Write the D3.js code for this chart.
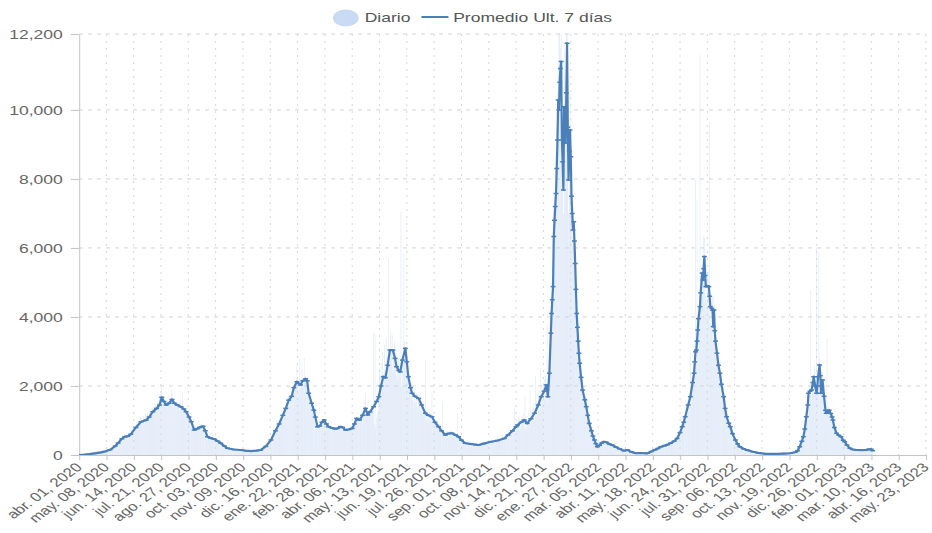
<!DOCTYPE html>
<html>
<head>
<meta charset="utf-8">
<script src="https://cdn.jsdelivr.net/npm/d3@7"></script>
<style>
  body { margin: 0; background: #fff; }
  svg { display: block; font-family: "Liberation Sans", Arial, sans-serif; }
</style>
</head>
<body>
<svg id="chart" width="932" height="533"></svg>
<script>
// ---- datos ----
const fechaInicio = "2020-04-01";
const fechaFin = "2023-05-23";
const series = ["Diario", "Promedio Ult. 7 días"];

const ticksY = [0, 2000, 4000, 6000, 8000, 10000, 12200];
const ticksX = [
  "2020-04-01", "2020-05-08", "2020-06-14", "2020-07-21", "2020-08-27", "2020-10-03",
  "2020-11-09", "2020-12-16", "2021-01-22", "2021-02-28", "2021-04-06", "2021-05-13",
  "2021-06-19", "2021-07-26", "2021-09-01", "2021-10-08", "2021-11-14", "2021-12-21",
  "2022-01-27", "2022-03-05", "2022-04-11", "2022-05-18", "2022-06-24", "2022-07-31",
  "2022-09-06", "2022-10-13", "2022-11-19", "2022-12-26", "2023-02-01", "2023-03-10",
  "2023-04-16", "2023-05-23"
];

// casos diarios, una fila por semana desde 2020-04-01
const diario = [
  2,4,3,8,5,6,9,
  10,8,15,12,14,9,18,
  20,28,22,30,25,19,33,
  40,52,38,47,55,44,60,
  62,75,80,58,90,72,85,
  95,120,105,140,98,130,125,
  150,180,200,160,210,175,230,
  260,310,280,350,390,330,420,
  450,520,430,560,490,610,540,
  500,580,620,470,560,650,590,
  600,720,680,810,760,690,850,
  800,910,860,1020,950,880,1100,
  960,1080,900,1150,1010,930,1200,
  1010,1150,1240,980,1180,1320,1090,
  1200,1350,1420,1150,1380,1500,1290,
  1350,1520,1600,1400,1680,1550,1800,
  1950,1620,1500,1480,1700,1420,1380,
  1450,1600,1550,1720,1480,1650,1900,
  1800,1520,1450,1600,1380,1550,1470,
  1450,1380,1520,1300,1600,1350,1400,
  1850,1280,1420,1200,1300,1250,1180,
  1150,1100,980,1050,900,850,950,
  800,700,650,780,850,720,760,
  780,820,900,760,850,800,880,
  830,750,700,620,560,520,600,
  480,520,450,510,490,470,530,
  470,430,460,410,420,390,450,
  370,340,310,350,300,290,330,
  270,240,210,190,220,180,200,
  180,160,175,150,185,165,170,
  160,150,145,170,140,155,160,
  145,135,150,130,140,145,125,
  120,130,115,135,125,110,130,
  110,120,105,125,115,110,120,
  120,130,125,140,135,130,145,
  150,165,180,200,190,210,230,
  250,280,320,360,340,400,420,
  430,480,560,600,520,650,680,
  700,780,900,850,960,880,1000,
  1050,1150,1250,1100,1300,1350,1280,
  1350,1500,1650,1450,1700,1600,1750,
  1700,1850,2000,1800,2100,1950,2050,
  2150,2600,2000,1900,2200,2800,1950,
  2100,2700,2200,2000,2800,2300,2250,
  2150,2000,1700,1750,1600,1500,1450,
  1500,1400,1200,1100,1000,900,850,
  820,850,800,900,880,950,920,
  950,1000,1050,980,900,920,870,
  850,820,780,800,760,820,790,
  780,750,790,760,740,800,770,
  770,820,800,850,780,830,810,
  800,760,720,700,740,730,760,
  740,750,780,760,770,790,770,
  850,900,950,1000,1100,1050,1080,
  1000,1050,1100,1020,1150,1080,1150,
  1200,1600,1400,1800,1250,1150,1160,
  1200,1250,1300,1350,1380,1400,1420,
  3570,900,3500,800,1100,1200,1300,
  1690,2500,1950,2700,2100,3000,2270,
  2250,3200,2300,3400,2500,2700,5700,
  3000,2600,3600,3000,3500,2400,2950,
  3300,2500,3100,2300,2900,2200,2800,
  2420,2410,7050,2000,2750,5850,3000,
  3300,2800,3100,2500,2600,2000,2300,
  2200,1700,2100,1600,1900,1500,1800,
  1900,1500,1800,1400,1700,1650,1450,
  1600,1300,1500,1200,1400,1150,1300,
  2750,1000,1300,1050,1200,950,1250,
  1200,1000,1800,950,1050,900,1000,
  1000,800,950,750,900,700,850,
  800,600,1540,550,700,500,650,
  650,520,700,560,680,550,700,
  700,560,680,540,650,520,610,
  620,480,1200,450,560,420,500,
  480,350,420,310,380,290,360,
  380,280,360,270,350,290,340,
  350,260,330,270,320,280,330,
  330,250,310,270,320,290,340,
  380,290,360,300,370,320,380,
  420,320,400,330,410,350,420,
  450,350,430,360,440,380,450,
  500,380,480,390,490,420,500,
  560,420,540,440,560,480,620,
  700,520,680,560,720,600,760,
  880,640,1400,700,900,760,950,
  1100,760,1050,800,1080,850,1020,
  1200,800,1700,750,1050,820,1000,
  1250,880,1900,920,1300,1000,1400,
  1500,1000,2300,1100,1600,1200,1700,
  1900,1300,2500,1400,2000,1600,2100,
  2200,1600,2300,1700,3800,1500,2400,
  2800,3000,4200,4500,5000,5600,7200,
  7500,8200,8800,9500,10500,11300,12200,
  12200,11800,12200,9000,8000,7000,12000,
  11000,9000,12200,12200,8500,7000,9500,
  10500,8000,7200,6500,6000,7000,5800,
  5000,4300,3800,3500,3000,2800,2500,
  2600,2000,2200,1700,1900,1500,1700,
  1600,1200,1400,1000,1100,800,900,
  800,600,700,480,550,380,420,
  360,240,300,220,300,250,330,
  380,300,420,330,430,340,410,
  410,310,390,300,370,280,340,
  330,250,310,240,290,220,260,
  250,180,230,170,210,150,190,
  170,120,150,110,150,120,160,
  165,120,150,105,130,90,100,
  95,70,80,55,65,45,55,
  60,45,60,48,62,46,58,
  58,44,56,45,55,44,54,
  56,45,70,68,95,85,110,
  125,105,150,130,175,150,200,
  210,170,230,190,250,210,270,
  280,230,300,250,310,260,330,
  340,280,360,300,370,320,420,
  430,350,470,400,530,450,620,
  680,560,770,640,860,720,980,
  1050,900,1250,1050,1450,1200,1600,
  1700,1400,3040,1500,2200,1850,2500,
  2600,2300,7970,2700,7390,3300,4300,
  4400,11590,5200,4500,5800,4600,6330,
  6300,4600,5300,4400,5400,4300,5300,
  9660,3800,4700,3700,4600,3300,4600,
  4000,2900,3400,2600,3100,2300,2700,
  2600,1900,2300,1700,2000,1500,1700,
  1500,1100,1250,900,1000,800,950,
  900,680,760,560,620,450,520,
  480,360,400,290,330,240,270,
  250,190,220,170,200,150,180,
  170,130,155,120,140,110,125,
  120,95,110,85,100,75,90,
  85,65,72,55,64,50,58,
  53,40,47,36,41,32,36,
  34,27,32,26,33,28,30,
  33,27,31,28,32,27,30,
  35,29,34,30,35,29,32,
  42,34,40,35,41,36,38,
  52,42,50,44,52,46,50,
  60,52,70,62,88,80,120,
  130,140,220,210,310,300,440,
  520,470,720,680,990,1000,1400,
  1600,1500,2000,1700,4780,1600,2100,
  2300,2000,2560,1800,2100,6000,2200,
  2400,5890,2800,2100,1700,2100,2400,
  2100,1500,1700,1150,1300,3390,1350,
  1400,1150,1350,1050,1250,950,1100,
  1000,700,800,600,700,530,640,
  630,490,600,470,550,400,470,
  440,340,380,280,320,230,250,
  230,170,200,150,185,140,170,
  170,135,160,130,158,128,155,
  155,128,150,125,155,130,160,
  165,135,168,140,175,145,180,
  180,150,180,145,130
];

// promedio últimos 7 días: [días desde fechaInicio, valor]
const promedio = [
  [0,0],[7,10],[14,25],[21,45],[28,70],[35,100],[42,150],[49,260],[53,350],[58,470],
  [62,530],[66,540],[70,600],[77,800],[84,965],[91,1010],[95,1100],[100,1255],[105,1350],
  [109,1450],[112,1670],[115,1550],[118,1450],[122,1500],[126,1610],[129,1500],[133,1450],
  [138,1400],[142,1330],[145,1255],[149,1100],[152,965],[156,725],[160,760],[163,800],
  [168,830],[171,700],[174,530],[178,490],[183,465],[188,400],[192,340],[197,260],[201,195],
  [210,160],[219,145],[226,125],[233,115],[240,125],[246,145],[253,250],[260,435],[266,700],
  [271,900],[276,1150],[280,1350],[284,1590],[288,1700],[291,1950],[295,2125],[300,2030],
  [303,2150],[307,2210],[309,2150],[311,1790],[315,1500],[318,1300],[320,1100],[323,820],
  [326,840],[329,950],[332,1015],[335,900],[338,820],[343,780],[347,760],[350,770],[354,820],
  [357,800],[361,725],[365,740],[370,770],[373,900],[376,1060],[380,1015],[384,1150],
  [388,1350],[391,1160],[394,1250],[399,1400],[403,1550],[406,1690],[409,2000],[412,2270],
  [415,2240],[418,2600],[421,3040],[425,3040],[428,2800],[430,2560],[433,2450],[435,2410],
  [438,2750],[442,3090],[444,2700],[446,2270],[449,1950],[451,1790],[455,1700],[460,1640],
  [464,1450],[469,1210],[473,1150],[478,1110],[482,950],[487,820],[491,700],[496,580],
  [500,620],[505,630],[510,580],[514,530],[518,430],[523,340],[530,320],[537,300],[541,290],
  [548,330],[558,385],[567,420],[576,480],[581,580],[587,700],[592,820],[594,870],[599,950],
  [603,1015],[607,915],[612,1050],[617,1210],[622,1450],[626,1690],[630,1850],[633,2030],
  [635,1690],[637,2370],[639,3530],[640,4100],[641,4500],[642,4880],[643,6330],[644,6800],
  [645,7200],[646,7580],[647,8300],[648,9130],[649,10290],[650,10000],[651,10800],
  [652,11200],[653,11400],[654,9130],[655,8500],[656,7680],[657,10090],[658,9700],
  [659,9040],[660,10500],[661,11930],[662,9500],[663,7970],[664,8800],[665,9420],
  [666,8640],[667,7500],[668,7000],[669,6520],[670,6760],[671,6200],[672,5550],[673,4800],
  [674,4100],[675,3700],[676,3300],[677,2950],[678,2660],[680,2250],[682,1880],[685,1600],
  [687,1400],[689,1150],[691,915],[694,700],[696,550],[698,435],[700,330],[702,240],
  [705,280],[708,350],[711,385],[714,370],[718,320],[722,290],[727,230],[732,180],[738,125],
  [743,145],[748,90],[754,50],[760,55],[766,50],[770,50],[775,100],[780,150],[784,190],
  [788,240],[793,270],[797,300],[801,340],[806,400],[810,480],[814,650],[817,820],[819,950],
  [821,1110],[825,1450],[828,1690],[831,2100],[833,2370],[834,2700],[835,2990],[836,3040],
  [837,3300],[838,3620],[839,3950],[841,4300],[842,4700],[844,5270],[845,5070],[846,5400],
  [847,5750],[848,5200],[849,4880],[851,4900],[853,4880],[854,4600],[855,4300],[857,4250],
  [858,4200],[859,3720],[860,4200],[861,3600],[862,3300],[864,2950],[866,2600],[868,2370],
  [870,2050],[873,1690],[875,1350],[877,1110],[880,920],[882,820],[885,620],[889,435],
  [892,320],[895,240],[900,180],[905,140],[913,95],[920,60],[931,30],[945,30],[955,40],
  [963,50],[970,80],[973,120],[976,240],[979,400],[981,530],[983,750],[985,1110],[987,1450],
  [988,1790],[990,1850],[992,1880],[994,2100],[995,2270],[997,2000],[999,1790],[1000,2000],
  [1001,2270],[1003,2610],[1004,2300],[1005,1790],[1006,2000],[1007,2170],[1009,1700],
  [1011,1300],[1012,1210],[1014,1250],[1016,1300],[1018,1200],[1020,1100],[1021,1015],
  [1023,800],[1026,630],[1029,570],[1032,530],[1035,430],[1037,385],[1040,290],[1044,195],
  [1048,160],[1053,145],[1060,140],[1066,150],[1070,165],[1073,165],[1075,125]
];

// ---- dibujo ----
// the picture is stretched sideways, so draw in a narrower viewBox and let it stretch
const VW = 690, VH = 533;
const svg = d3.select("#chart")
  .attr("viewBox", `0 0 ${VW} ${VH}`)
  .attr("preserveAspectRatio", "none");

const margin = { top: 34, right: 4.5, bottom: 78, left: 58.5 };
const lineColor = "#4a7fba";

const es = d3.timeFormatLocale({
  dateTime: "%x, %X", date: "%d/%m/%Y", time: "%H:%M:%S", periods: ["AM", "PM"],
  days: ["domingo", "lunes", "martes", "miércoles", "jueves", "viernes", "sábado"],
  shortDays: ["dom", "lun", "mar", "mié", "jue", "vie", "sáb"],
  months: ["enero", "febrero", "marzo", "abril", "mayo", "junio", "julio", "agosto",
           "septiembre", "octubre", "noviembre", "diciembre"],
  shortMonths: ["ene.", "feb.", "mar.", "abr.", "may.", "jun.", "jul.", "ago.",
                "sep.", "oct.", "nov.", "dic."]
});
const fmtFecha = es.utcFormat("%b %d, %Y");
const parse = d3.utcParse("%Y-%m-%d");
const inicio = parse(fechaInicio);
const dia = n => d3.utcDay.offset(inicio, n);

const x = d3.scaleUtc()
  .domain([inicio, parse(fechaFin)])
  .range([margin.left, VW - margin.right]);

const y = d3.scaleLinear()
  .domain([0, d3.max(ticksY)])
  .range([VH - margin.bottom, margin.top]);

const x0 = margin.left, x1 = VW - margin.right;
const yBottom = VH - margin.bottom, yTop = margin.top;

svg.append("clipPath").attr("id", "plot")
  .append("rect")
  .attr("x", x0).attr("y", yTop - 2)
  .attr("width", x1 - x0 + 2).attr("height", yBottom - yTop + 2);

// grid
svg.append("g")
  .selectAll("line")
  .data(ticksY.filter(v => v > 0))
  .enter().append("line")
  .attr("x1", x0).attr("x2", x1)
  .attr("y1", d => y(d)).attr("y2", d => y(d))
  .attr("stroke", "#d4d4d4")
  .attr("stroke-dasharray", "4,5")
  .attr("vector-effect", "non-scaling-stroke");

svg.append("g")
  .selectAll("line")
  .data(ticksX.slice(1))
  .enter().append("line")
  .attr("x1", d => x(parse(d))).attr("x2", d => x(parse(d)))
  .attr("y1", yTop).attr("y2", yBottom)
  .attr("stroke", "#d8d8d8")
  .attr("stroke-dasharray", "2,5")
  .attr("vector-effect", "non-scaling-stroke");

// daily bars
const paso = x(dia(1)) - x(dia(0));
svg.append("g")
  .attr("clip-path", "url(#plot)")
  .selectAll("rect")
  .data(diario)
  .enter().append("rect")
  .attr("x", (d, i) => x(dia(i)) - paso * 0.4)
  .attr("y", d => y(d))
  .attr("width", paso * 0.8)
  .attr("height", d => yBottom - y(d))
  .attr("fill", "#c6d8f2")
  .attr("fill-opacity", 0.6);

// axes
const yAxis = svg.append("g")
  .attr("transform", `translate(${x0},0)`)
  .call(d3.axisLeft(y).tickValues(ticksY).tickFormat(d3.format(",")).tickSize(6).tickSizeOuter(0).tickPadding(6));

const xAxis = svg.append("g")
  .attr("transform", `translate(0,${yBottom})`)
  .call(d3.axisBottom(x).tickValues(ticksX.map(parse)).tickFormat(fmtFecha).tickSize(5).tickSizeOuter(0));

[yAxis, xAxis].forEach(g => {
  g.select(".domain").attr("stroke", "#c4c4c4").attr("vector-effect", "non-scaling-stroke");
  g.selectAll(".tick line").attr("stroke", "#c4c4c4").attr("vector-effect", "non-scaling-stroke");
  g.selectAll("text").attr("fill", "#666").style("font-size", "13px")
    .style("font-family", "\"Liberation Sans\", Arial, sans-serif");
});

xAxis.selectAll("text")
  .attr("x", 0).attr("y", 0).attr("dy", 0)
  .attr("text-anchor", "end")
  .style("font-size", "12.5px")
  .attr("transform", "translate(2.5,13) rotate(-45)");

// 7-day average line
const linea = d3.line()
  .x(d => x(dia(d[0])))
  .y(d => y(d[1]));

const gLinea = svg.append("g").attr("clip-path", "url(#plot)");
gLinea.append("path")
  .datum(promedio)
  .attr("d", linea)
  .attr("fill", "none")
  .attr("stroke", lineColor)
  .attr("stroke-width", 2.2)
  .attr("stroke-linejoin", "round")
  .attr("vector-effect", "non-scaling-stroke");

gLinea.selectAll("line")
  .data(promedio)
  .enter().append("line")
  .attr("x1", d => x(dia(d[0])) - 1.8)
  .attr("x2", d => x(dia(d[0])) + 1.8)
  .attr("y1", d => y(d[1])).attr("y2", d => y(d[1]))
  .attr("stroke", lineColor)
  .attr("stroke-width", 1.5)
  .attr("vector-effect", "non-scaling-stroke");

// legend
const leg = svg.append("g").style("font-size", "13px").attr("fill", "#555");
leg.append("ellipse")
  .attr("cx", 256).attr("cy", 18).attr("rx", 9.5).attr("ry", 8.5)
  .attr("fill", "#c9daf4");
leg.append("text").attr("x", 270).attr("y", 22.5).text(series[0]);
leg.append("line")
  .attr("x1", 312).attr("x2", 332).attr("y1", 17).attr("y2", 17)
  .attr("stroke", lineColor).attr("stroke-width", 2)
  .attr("vector-effect", "non-scaling-stroke");
leg.append("text").attr("x", 335.5).attr("y", 22.5).text(series[1]);
</script>
</body>
</html>
